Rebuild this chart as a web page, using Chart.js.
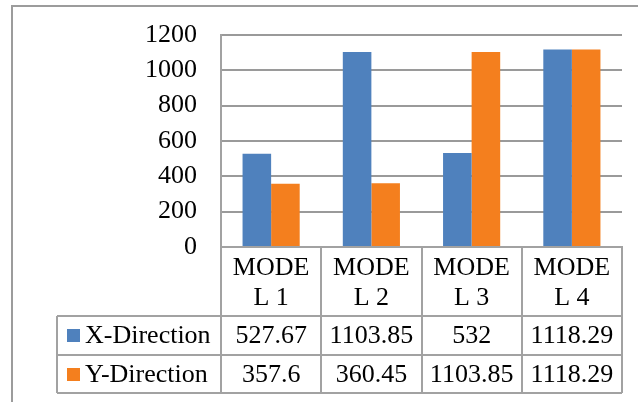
<!DOCTYPE html>
<html>
<head>
<meta charset="utf-8">
<script src="https://cdn.jsdelivr.net/npm/chart.js@4"></script>
<style>
  html, body { margin: 0; padding: 0; background: #fff; }
  #wrap { width: 638px; height: 402px; position: relative; }
</style>
</head>
<body>
<div id="wrap"><canvas id="c" width="638" height="402"></canvas></div>
<script>
// Chart data
const categories = [['MODE', 'L 1'], ['MODE', 'L 2'], ['MODE', 'L 3'], ['MODE', 'L 4']];
const seriesNames = ['X-Direction', 'Y-Direction'];
const xDirection = [527.67, 1103.85, 532, 1118.29];
const yDirection = [357.6, 360.45, 1103.85, 1118.29];
const yTicks = [0, 200, 400, 600, 800, 1000, 1200];

const seriesColors = ['#4f81bd', '#f47f1e'];
const lineGray = '#a2a2a2';
const serif = '"Liberation Serif", "Times New Roman", serif';

// Data table under the plot plus the outer frame
const dataTable = {
  id: 'dataTable',
  afterDraw(chart) {
    const { ctx, chartArea: a } = chart;
    const n = categories.length;
    const colW = (a.right - a.left) / n;
    const legendLeft = 57;
    const rows = [316, 355, 393];
    const series = [xDirection, yDirection];

    ctx.save();
    ctx.strokeStyle = lineGray;
    ctx.lineWidth = 2;
    ctx.beginPath();
    // column separators (header + value rows)
    for (let i = 0; i <= n; i++) {
      const xx = Math.round(a.left + i * colW);
      ctx.moveTo(xx, a.bottom);
      ctx.lineTo(xx, rows[2]);
    }
    // row separators
    rows.forEach(r => { ctx.moveTo(legendLeft, r); ctx.lineTo(a.right, r); });
    // legend column left edge
    ctx.moveTo(legendLeft, rows[0]);
    ctx.lineTo(legendLeft, rows[2]);
    ctx.stroke();

    // outer frame (top and left)
    ctx.strokeStyle = '#9c9c9c';
    ctx.beginPath();
    ctx.moveTo(12, 402);
    ctx.lineTo(12, 6);
    ctx.lineTo(638, 6);
    ctx.stroke();

    ctx.font = '26px ' + serif;
    ctx.fillStyle = '#000';
    ctx.textBaseline = 'alphabetic';
    series.forEach((vals, s) => {
      const base = rows[s] + 27;
      // legend key
      ctx.fillStyle = seriesColors[s];
      ctx.fillRect(67, rows[s] + 13, 13, 13);
      ctx.fillStyle = '#000';
      ctx.textAlign = 'left';
      ctx.fillText(seriesNames[s], 85, base);
      ctx.textAlign = 'center';
      vals.forEach((v, i) => {
        ctx.fillText(String(v), a.left + (i + 0.5) * colW, base);
      });
    });
    ctx.restore();
  }
};

new Chart(document.getElementById('c'), {
  type: 'bar',
  data: {
    labels: categories,
    datasets: [
      { label: seriesNames[0], data: xDirection, backgroundColor: seriesColors[0], borderWidth: 0 },
      { label: seriesNames[1], data: yDirection, backgroundColor: seriesColors[1], borderWidth: 0 }
    ]
  },
  options: {
    responsive: false,
    animation: false,
    devicePixelRatio: 1,
    layout: { padding: { left: 0, top: 35, right: 16, bottom: 0 } },
    datasets: { bar: { categoryPercentage: 0.57, barPercentage: 1.0 } },
    plugins: { legend: { display: false }, tooltip: { enabled: false } },
    scales: {
      x: {
        grid: { display: false, drawTicks: false },
        border: { display: true, color: lineGray, width: 2 },
        ticks: {
          color: '#000',
          font: { family: serif, size: 26, lineHeight: 1.16 },
          padding: 6,
          maxRotation: 0,
          autoSkip: false
        },
        afterFit(s) { s.height = 155; }
      },
      y: {
        min: 0,
        max: 1200,
        afterBuildTicks(s) { s.ticks = yTicks.map(v => ({ value: v })); },
        // invisible tick marks keep the labels clear of the axis line
        grid: { color: '#9a9a9a', lineWidth: 2, drawTicks: true, tickLength: 24, tickColor: 'rgba(0,0,0,0)' },
        border: { display: true, color: lineGray, width: 2 },
        ticks: {
          color: '#000',
          font: { family: serif, size: 26 },
          padding: 0,
          callback: v => String(v)
        },
        afterFit(s) { s.width = 221; }
      }
    }
  },
  plugins: [dataTable]
});
</script>
</body>
</html>
